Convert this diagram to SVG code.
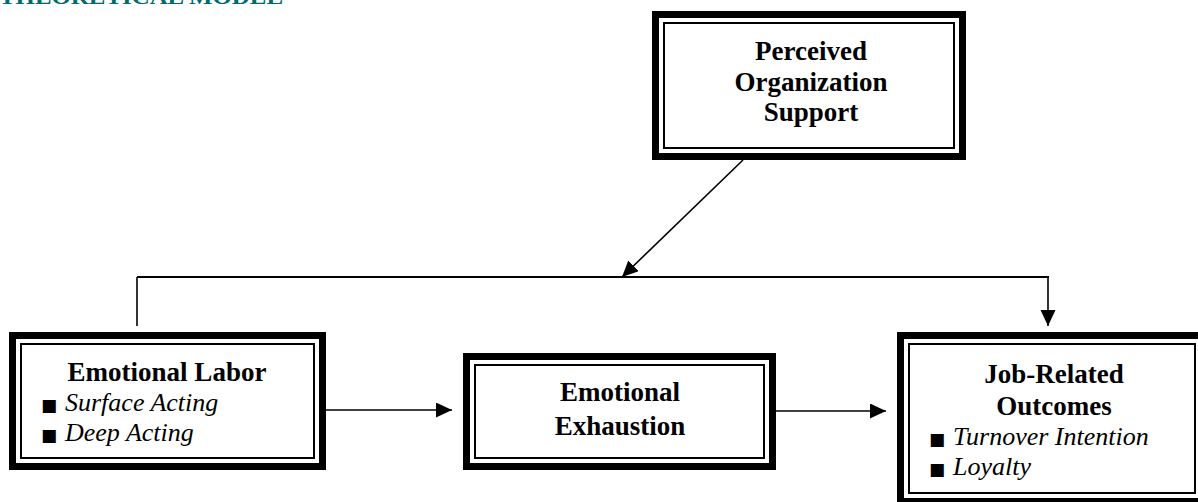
<svg xmlns="http://www.w3.org/2000/svg" width="1198" height="502" viewBox="0 0 1198 502">
<style>
.thick{fill:#fff;stroke:#000;stroke-width:7}
.thin{fill:none;stroke:#000;stroke-width:2}
.t{font-family:"Liberation Serif","Times New Roman",serif;font-size:27px;font-weight:bold;fill:#000;text-anchor:middle}
.i{font-family:"Liberation Serif","Times New Roman",serif;font-size:26px;font-style:italic;fill:#000}
.b{font-family:"DejaVu Sans",sans-serif;font-size:17px;font-style:normal}
.c{fill:none;stroke:#000;stroke-width:1.6}
.title{font-family:"Liberation Serif","Times New Roman",serif;font-size:22px;font-weight:bold;fill:#006b6b}
</style>
<defs>
<marker id="ah" markerUnits="userSpaceOnUse" markerWidth="17" markerHeight="16" refX="16" refY="7.5" orient="auto">
<path d="M0,0 L16,7.5 L0,15 z" fill="#000"/>
</marker>
</defs>
<text class="title" x="-1" y="4" textLength="284" lengthAdjust="spacingAndGlyphs">THEORETICAL MODEL</text>
<g id="connectors">
<line class="c" x1="743" y1="160" x2="622" y2="277" marker-end="url(#ah)"/>
<line x1="137" y1="277" x2="1049" y2="277" stroke="#000" stroke-width="2.2"/>
<line class="c" x1="137" y1="277" x2="137" y2="326"/>
<line class="c" x1="1048" y1="277" x2="1048" y2="326" marker-end="url(#ah)"/>
<line class="c" x1="326" y1="410" x2="452" y2="410" marker-end="url(#ah)"/>
<line class="c" x1="776" y1="411" x2="886" y2="411" marker-end="url(#ah)"/>
</g>
<g id="pos">
<rect class="thick" x="655.5" y="14.5" width="307" height="142"/>
<rect class="thin" x="664" y="23" width="290" height="125"/>
<text class="t" x="811" y="60">Perceived</text>
<text class="t" x="811" y="90.5">Organization</text>
<text class="t" x="811" y="121">Support</text>
</g>
<g id="emotional-labor">
<rect class="thick" x="12.5" y="335.5" width="310" height="131"/>
<rect class="thin" x="21" y="344" width="293" height="114"/>
<text class="t" x="167" y="381">Emotional Labor</text>
<text class="i" x="41" y="411"><tspan class="b">■</tspan><tspan x="65">Surface Acting</tspan></text>
<text class="i" x="41" y="441"><tspan class="b">■</tspan><tspan x="65">Deep Acting</tspan></text>
</g>
<g id="emotional-exhaustion">
<rect class="thick" x="466.5" y="356.5" width="306" height="110"/>
<rect class="thin" x="475" y="365" width="289" height="93"/>
<text class="t" x="620" y="401">Emotional</text>
<text class="t" x="620" y="435">Exhaustion</text>
</g>
<g id="job-related-outcomes">
<rect class="thick" x="900.5" y="335.5" width="303" height="166"/>
<rect class="thin" x="909" y="344" width="286" height="149"/>
<text class="t" x="1054" y="383">Job-Related</text>
<text class="t" x="1054" y="415">Outcomes</text>
<text class="i" x="929" y="445"><tspan class="b">■</tspan><tspan x="953">Turnover Intention</tspan></text>
<text class="i" x="929" y="475"><tspan class="b">■</tspan><tspan x="953">Loyalty</tspan></text>
</g>
</svg>
